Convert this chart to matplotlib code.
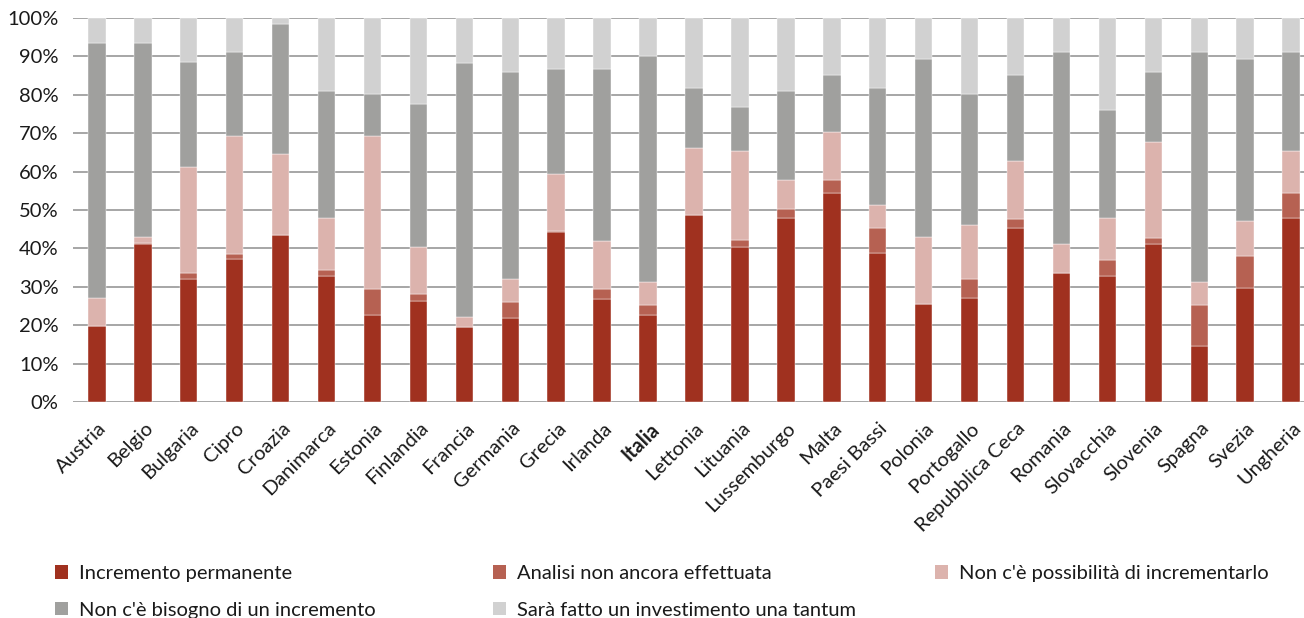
import matplotlib
matplotlib.use("Agg")
import matplotlib.pyplot as plt
import matplotlib.transforms as mtransforms
import numpy as np
from matplotlib.patches import Patch

plt.rcParams['font.family'] = ['Lato', 'DejaVu Sans']

countries = ["Austria", "Belgio", "Bulgaria", "Cipro", "Croazia", "Danimarca",
             "Estonia", "Finlandia", "Francia", "Germania", "Grecia", "Irlanda",
             "Italia", "Lettonia", "Lituania", "Lussemburgo", "Malta", "Paesi Bassi",
             "Polonia", "Portogallo", "Repubblica Ceca", "Romania", "Slovacchia",
             "Slovenia", "Spagna", "Svezia", "Ungheria"]

# shares in percent, stacked bottom to top
incremento = [19.7, 41.1, 32.0, 37.2, 43.6, 32.9, 22.7, 26.2, 19.6, 22.0, 44.4, 26.9,
              22.7, 48.6, 40.3, 47.8, 54.4, 38.7, 25.4, 27.0, 45.2, 33.7, 32.9, 41.1,
              14.5, 29.6, 47.8]
analisi = [0.0, 0.3, 1.7, 1.4, 0.0, 1.6, 6.8, 1.8, 0.0, 4.1, 0.2, 2.6,
           2.6, 0.0, 1.8, 2.5, 3.3, 6.6, 0.0, 5.0, 2.5, 0.0, 4.2, 1.7,
           10.8, 8.3, 6.7]
non_possibile = [7.4, 1.6, 27.5, 30.8, 20.9, 13.4, 39.9, 12.4, 2.6, 6.0, 14.9, 12.5,
                 5.9, 17.5, 23.2, 7.5, 12.5, 5.9, 17.5, 14.2, 15.1, 7.5, 10.8, 25.0,
                 5.9, 9.2, 10.8]
non_bisogno = [66.4, 50.5, 27.3, 21.7, 33.9, 33.2, 10.7, 37.3, 66.2, 53.9, 27.3, 44.8,
               58.9, 15.8, 11.6, 23.3, 15.0, 30.7, 46.3, 33.9, 22.4, 49.9, 28.1, 18.2,
               59.9, 42.1, 25.8]
una_tantum = [6.5, 6.5, 11.5, 8.9, 1.6, 18.9, 19.9, 22.3, 11.6, 14.0, 13.2, 13.2,
              9.9, 18.1, 23.1, 18.9, 14.8, 18.1, 10.8, 19.9, 14.8, 8.9, 24.0, 14.0,
              8.9, 10.8, 8.9]

series_labels = ["Incremento permanente", "Analisi non ancora effettuata",
                 "Non c'è possibilità di incrementarlo",
                 "Non c'è bisogno di un incremento",
                 "Sarà fatto un investimento una tantum"]
colors = ["#A0311F", "#B66152", "#DCB3AD", "#A0A09E", "#D1D1D1"]

FS = 14.5
TXT = '#1a1a1a'

fig = plt.figure(figsize=(13.04, 6.18), dpi=100)
ax = fig.add_axes([73 / 1304, 1 - 402 / 618, 1 - 73 / 1304, (402 - 18) / 618])

x = np.arange(len(countries))
series = [incremento, analisi, non_possibile, non_bisogno, una_tantum]
bottom = np.zeros(len(countries))
for vals, col, lab in zip(series, colors, series_labels):
    v = np.array(vals)
    ax.bar(x, v, width=0.38, bottom=bottom, color=col, label=lab,
           edgecolor='white', linewidth=0.3, zorder=3)
    bottom += v

ax.set_ylim(0, 100)
ax.set_xlim(-0.52, 26.28)
ax.set_yticks(np.arange(0, 101, 10))
ax.set_yticklabels([f"{t}%" for t in range(0, 101, 10)], fontsize=FS, color=TXT)
ax.yaxis.grid(True, color='#A6A6A6', linewidth=1.4, zorder=0)
ax.set_axisbelow(True)
for s in ax.spines.values():
    s.set_visible(False)
ax.tick_params(axis='y', length=0, pad=10.5)
ax.tick_params(axis='x', length=0, pad=12.5)

ax.set_xticks(x)
ax.set_xticklabels(countries, rotation=45, ha='right', rotation_mode='anchor',
                   fontsize=FS, color=TXT)
shift = mtransforms.ScaledTranslation(1 / 100, 0, fig.dpi_scale_trans)
for lbl in ax.get_xticklabels():
    lbl.set_transform(lbl.get_transform() + shift)
    if lbl.get_text() == "Italia":
        lbl.set_fontweight('bold')

handles = [Patch(facecolor=c, edgecolor='none') for c in colors]
columns = [([0, 3], 55 / 1304), ([1, 4], 493 / 1304), ([2], 935 / 1304)]
for idx, xpos in columns:
    leg = fig.legend([handles[i] for i in idx], [series_labels[i] for i in idx],
                     loc='upper left', bbox_to_anchor=(xpos, 1 - 565 / 618),
                     frameon=False, fontsize=FS, handlelength=0.65, handleheight=0.65,
                     handletextpad=0.55, labelspacing=0.97, borderaxespad=0,
                     borderpad=0)
    for t in leg.get_texts():
        t.set_color(TXT)

fig.savefig("out.png", dpi=100)
